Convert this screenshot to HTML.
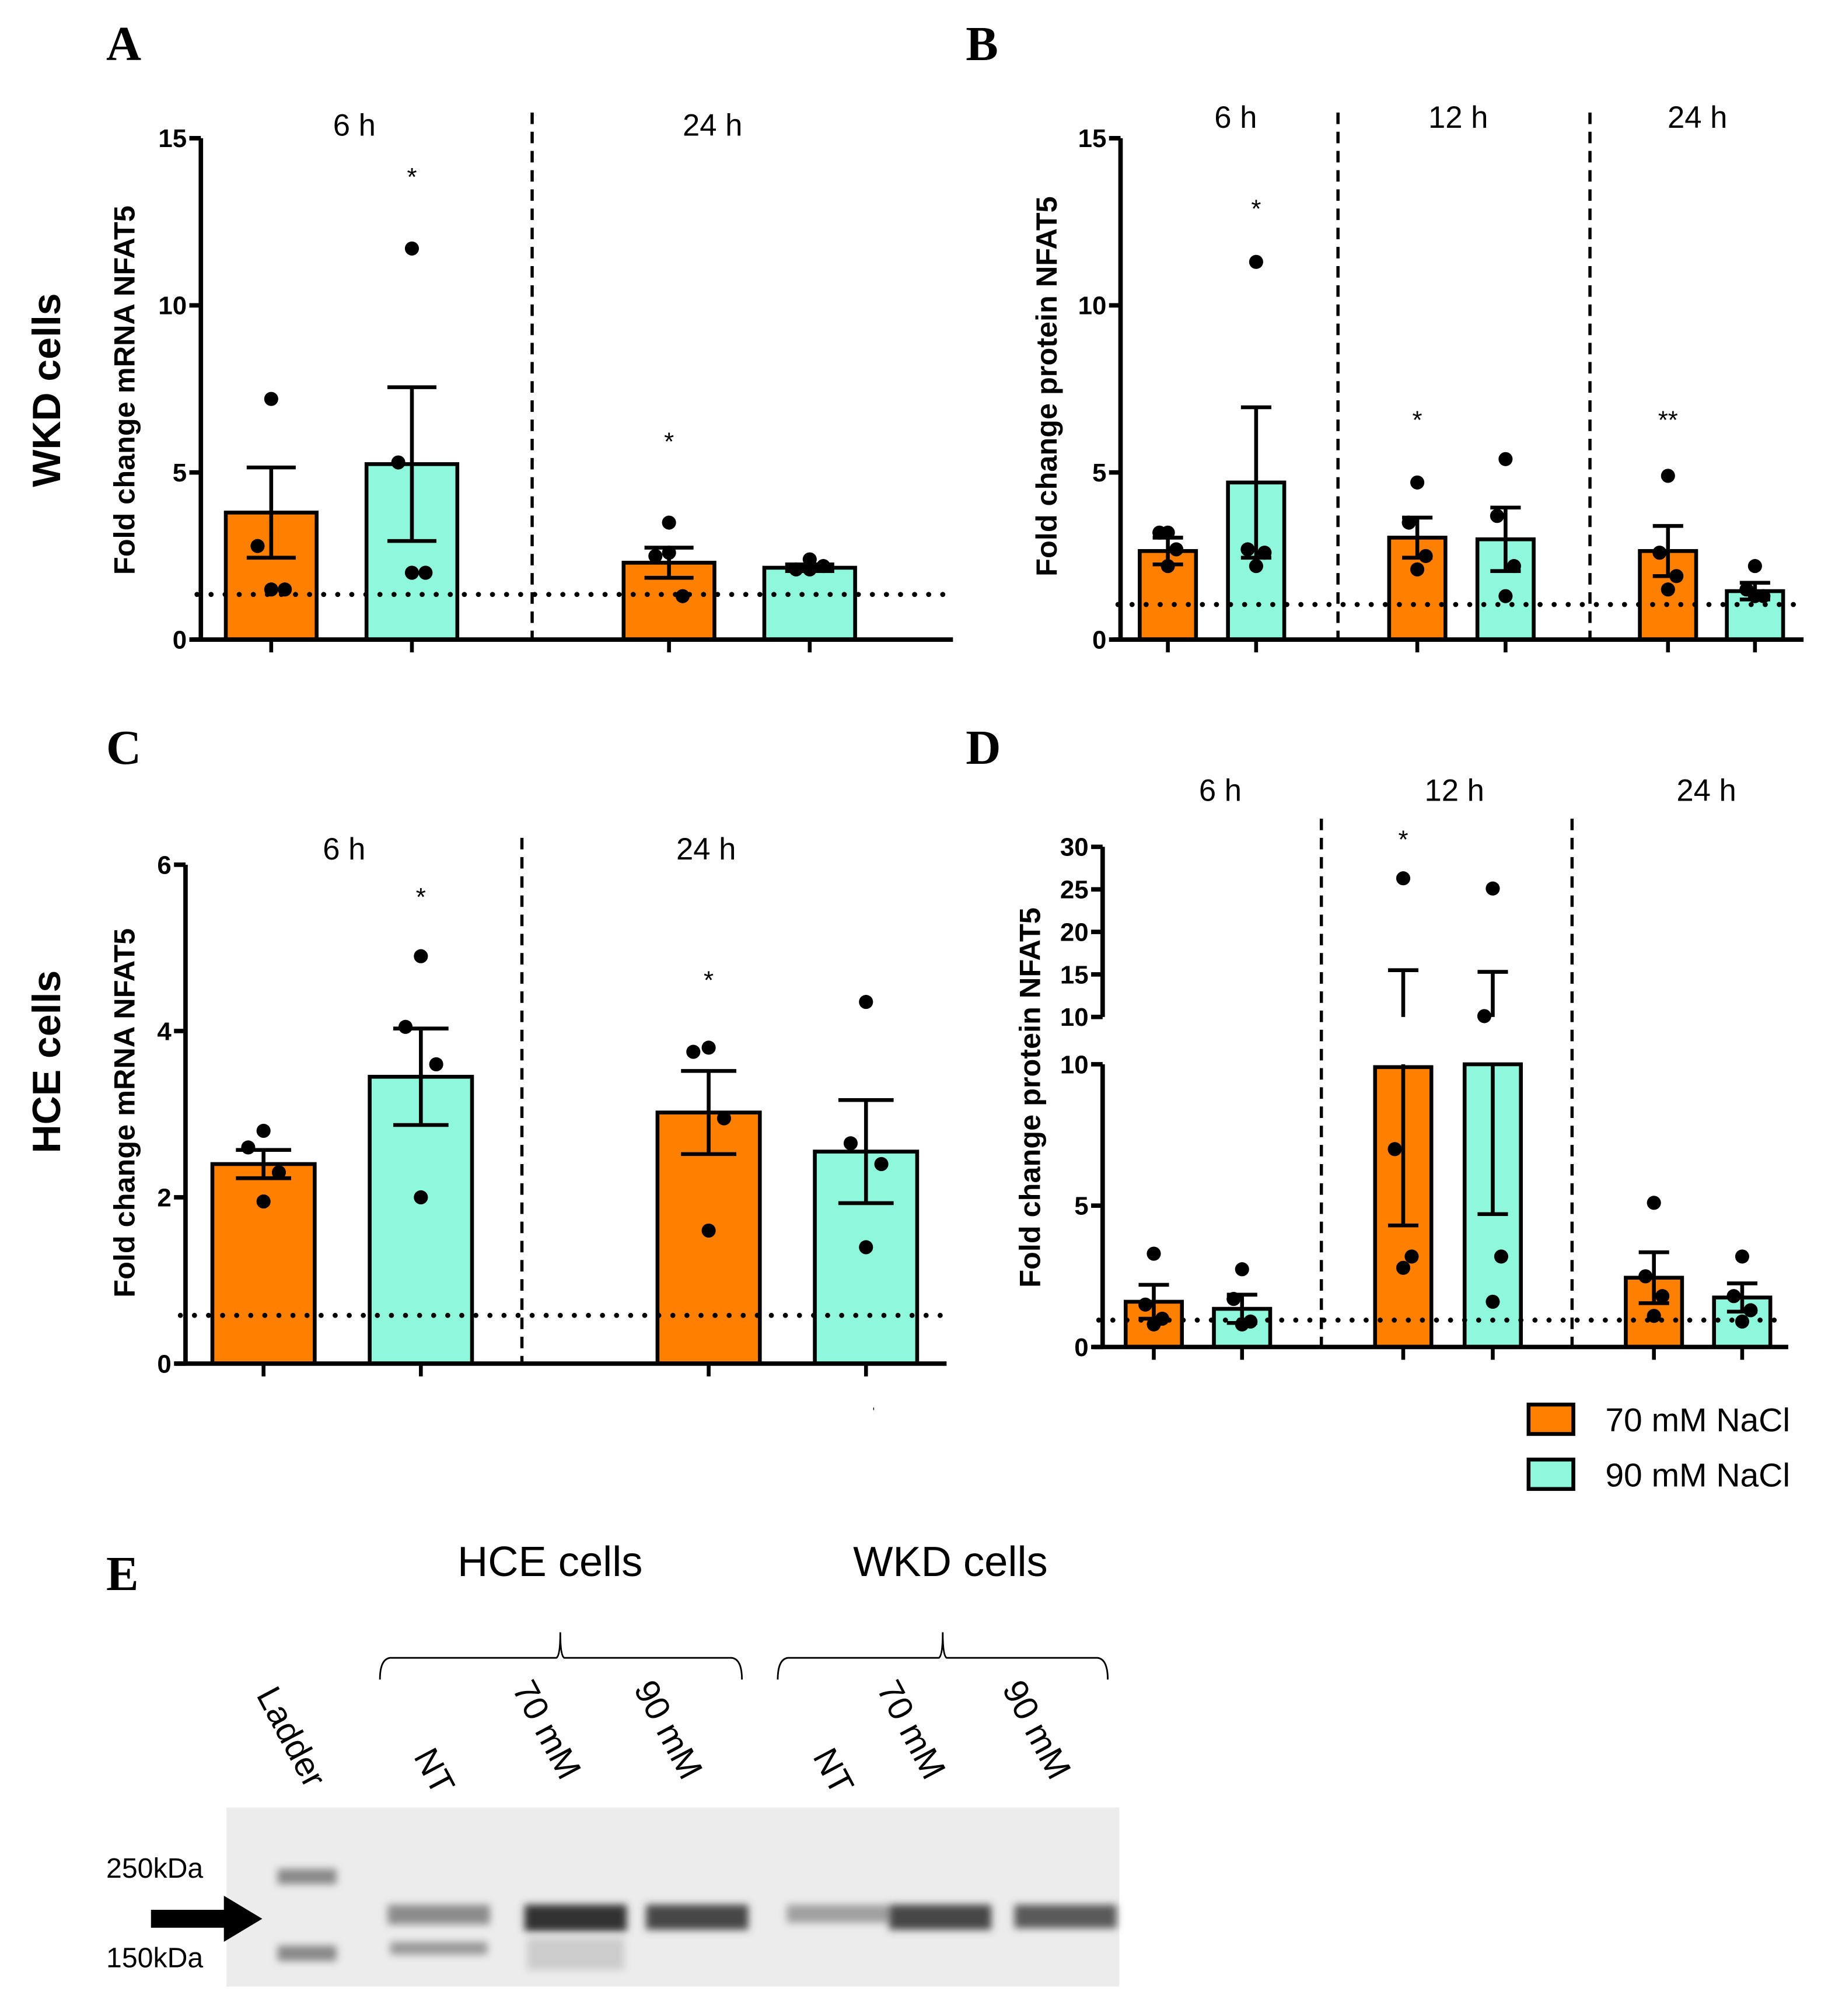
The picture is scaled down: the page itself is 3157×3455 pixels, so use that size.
<!DOCTYPE html>
<html><head><meta charset="utf-8"><style>
html,body{margin:0;padding:0;background:#fff}
svg{display:block}
text{font-family:"Liberation Sans",sans-serif}
</style></head><body>
<svg id="fig" width="3157" height="3455" viewBox="0 0 1440 1576" xmlns="http://www.w3.org/2000/svg">
<defs>
<filter id="blur"><feGaussianBlur stdDeviation="3"/></filter>
</defs>
<g id="root"></g>
</svg>
<script>
// ---- data ----
const groupLabelsA = ["6 h","24 h"];
const meansA = [3.8,5.25,2.3,2.15];
const semA = [1.35,2.3,0.45,0.1];
const pointsA = [[7.2,2.8,1.5,1.5],[11.7,5.3,2.0,2.0],[3.5,2.5,1.3,2.6],[2.1,2.1,2.2,2.4]];
const starsA = ["","*","*",""];
const baselineA = 1.35;
const ticksA = [0,5,10,15];

const groupLabelsB = ["6 h","12 h","24 h"];
const meansB = [2.65,4.7,3.05,3.0,2.65,1.45];
const semB = [0.4,2.25,0.6,0.95,0.75,0.25];
const pointsB = [[3.2,3.2,2.7,2.2],[11.3,2.7,2.6,2.2],[4.7,3.5,2.5,2.1],[5.4,3.7,2.2,1.3],[4.9,2.6,1.9,1.5],[2.2,1.5,1.3,1.3]];
const starsB = ["","*","*","","**",""];
const baselineB = 1.05;
const ticksB = [0,5,10,15];

const groupLabelsC = ["6 h","24 h"];
const meansC = [2.4,3.45,3.02,2.55];
const semC = [0.17,0.58,0.5,0.62];
const pointsC = [[2.8,2.6,2.3,1.95],[4.9,4.05,3.6,2.0],[3.8,3.75,2.95,1.6],[4.35,2.65,2.4,1.4]];
const starsC = ["","*","*",""];
const baselineC = 0.58;
const ticksC = [0,2,4,6];

const groupLabelsD = ["6 h","12 h","24 h"];
const meansD = [1.6,1.35,9.9,10.0,2.45,1.75];
const semD = [0.6,0.5,5.6,5.3,0.9,0.5];
const pointsD = [[3.3,1.5,1.0,0.8],[2.75,1.7,0.9,0.8],[26.3,7.0,3.2,2.8],[25.1,10.1,3.2,1.6],[5.1,2.5,1.8,1.1],[3.2,1.8,1.3,0.9]];
const starsD = ["","","*","","",""];
const baselineD = 0.95;
const ticksDLow = [0,5,10];
const ticksDHigh = [10,15,20,25,30];

const lanes = ["NT","70 mM","90 mM","NT","70 mM","90 mM"];
const bandIntensity = [0.45,0.9,0.8,0.35,0.8,0.7];

// ---- helpers ----
const NS="http://www.w3.org/2000/svg";
const root=document.getElementById('root');
function el(tag,attrs,parent,txt){const e=document.createElementNS(NS,tag);for(const k in attrs)e.setAttribute(k,attrs[k]);if(txt!==undefined)e.textContent=txt;(parent||root).appendChild(e);return e;}
const ORANGE="#ff8000", CYAN="#8ef7dc";

function panel(cfg){
  const g=el('g',{});
  
  
  const y=cfg.y;
  cfg.means.forEach((m,i)=>{
    const cx=cfg.cx[i], w=cfg.bw;
    const top=y(Math.min(m,cfg.clip||1e9));
    const r=el('rect',{x:cx-w/2,y:top,width:w,height:y(0)-top,fill:i%2?CYAN:ORANGE,stroke:'#000','stroke-width':3},g);
    
    
    const lo=m-cfg.sem[i], hi=m+cfg.sem[i];
    const eb=el('g',{stroke:'#000','stroke-width':3},g);
    
    
    if(cfg.clip && hi>cfg.clip){
      el('line',{x1:cx,x2:cx,y1:y(lo),y2:y(cfg.clip)},eb);
      el('line',{x1:cx,x2:cx,y1:cfg.breakTop,y2:y(hi)},eb);
    } else {
      el('line',{x1:cx,x2:cx,y1:y(lo),y2:y(hi)},eb);
    }
    el('line',{x1:cx-w*0.27,x2:cx+w*0.27,y1:y(hi),y2:y(hi)},eb);
    el('line',{x1:cx-w*0.27,x2:cx+w*0.27,y1:y(lo),y2:y(lo)},eb);
    cfg.points[i].forEach((p,j)=>{
      const off=[0,-9,9,0][j]*(cfg.bw/60);
      const c=el('circle',{cx:cx+(j==0?0:off),cy:y(p),r:5.5,fill:'#000'},g);
      
      
    });
    if(cfg.stars[i]){
      const t=el('text',{x:cx,y:cfg.starY[i],'text-anchor':'middle','font-size':20},g,cfg.stars[i]);
      
      
    }
    el('line',{x1:cx,x2:cx,y1:y(0),y2:y(0)+10,stroke:'#000','stroke-width':3},g);
  });
  const bl=el('line',{x1:cfg.xa0+4,x2:cfg.xa1,y1:y(cfg.base),y2:y(cfg.base),stroke:'#000','stroke-width':4,'stroke-dasharray':'0 11','stroke-linecap':'round'},g);
  
  
  cfg.seps.forEach(sx=>{const d=el('line',{x1:sx,x2:sx,y1:cfg.sepTop,y2:y(0),stroke:'#000','stroke-width':2.5,'stroke-dasharray':'9 6'},g);
    });
  cfg.groups.forEach((lab,i)=>{const t=el('text',{x:cfg.gx[i],y:cfg.gy,'text-anchor':'middle','font-size':24},g,lab);
    });
  const xa=el('line',{x1:cfg.xa0,x2:cfg.xa1,y1:y(0),y2:y(0),stroke:'#000','stroke-width':3.5},g);
  
  (cfg.axes).forEach(ax=>{
    const a=el('line',{x1:cfg.ax,x2:cfg.ax,y1:ax.y(ax.ticks[0]),y2:ax.y(ax.ticks[ax.ticks.length-1]),stroke:'#000','stroke-width':3.5},g);
    
    ax.ticks.forEach(tv=>{
      el('line',{x1:cfg.ax-9,x2:cfg.ax,y1:ax.y(tv),y2:ax.y(tv),stroke:'#000','stroke-width':3.5},g);
      const t=el('text',{x:cfg.ax-11,y:ax.y(tv)+7,'text-anchor':'end','font-size':20,'font-weight':'bold'},g,tv);
      
    });
  });
  const yt=el('text',{transform:`translate(${cfg.ytx},${cfg.yty}) rotate(-90)`,'text-anchor':'middle','font-size':23,'font-weight':'bold'},g,cfg.ytitle);
  
}

const yA=v=>500-v*26.13;
panel({name:'panel-a-chart',y:yA,means:meansA,sem:semA,points:pointsA,stars:starsA,starY:[0,145,352,0],
  cx:[212,322,523,633],bw:71,base:baselineA,xa0:150,xa1:745,seps:[416],sepTop:88,groups:groupLabelsA,gx:[277,557],gy:106,
  ax:157,axes:[{y:yA,ticks:ticksA}],ytx:105,yty:305,ytitle:'Fold change mRNA NFAT5'});
const yB=v=>500-v*26.13;
panel({name:'panel-b-chart',y:yB,means:meansB,sem:semB,points:pointsB,stars:starsB,starY:[0,170,335,0,335,0],
  cx:[913,982,1108,1177,1304,1372],bw:44,base:baselineB,xa0:870,xa1:1410,seps:[1046,1243],sepTop:88,groups:groupLabelsB,gx:[966,1140,1327],gy:100,
  ax:876,axes:[{y:yB,ticks:ticksB}],ytx:826,yty:302,ytitle:'Fold change protein NFAT5'});
const yC=v=>1066-v*65;
panel({name:'panel-c-chart',y:yC,means:meansC,sem:semC,points:pointsC,stars:starsC,starY:[0,708,773,0],
  cx:[206,329,554,677],bw:80,base:baselineC,xa0:137,xa1:740,seps:[408],sepTop:655,groups:groupLabelsC,gx:[269,552],gy:672,
  ax:145,axes:[{y:yC,ticks:ticksC}],ytx:105,yty:870,ytitle:'Fold change mRNA NFAT5'});
const yD=v=>v<=10?1053-v*22.1:795-(v-10)*6.65;
const yDlow=v=>1053-v*22.1;
const yDhigh=v=>795-(v-10)*6.65;
panel({name:'panel-d-chart',y:yD,means:meansD,sem:semD,points:pointsD,stars:starsD,starY:[0,0,663,0,0,0],clip:10,breakTop:795,
  cx:[902,971,1097,1167,1293,1362],bw:44,base:baselineD,xa0:855,xa1:1398,seps:[1033,1229],sepTop:640,groups:groupLabelsD,gx:[954,1137,1334],gy:626,
  ax:862,axes:[{y:yDlow,ticks:ticksDLow},{y:yDhigh,ticks:ticksDHigh}],ytx:813,yty:858,ytitle:'Fold change protein NFAT5'});
el('text',{x:681,y:1100,'font-size':12},root,'ˌ');

[['A',83,47],['B',755,47],['C',83,597],['D',755,597],['E',83,1243]].forEach(([l,x,y])=>{
  const t=el('text',{x:x,y:y,'font-size':38,'font-weight':'bold',style:'font-family:"Liberation Serif",serif'},root,l);
  
});
[['WKD cells',305],['HCE cells',830]].forEach(([l,y])=>{
  const t=el('text',{transform:`translate(47,${y}) rotate(-90)`,'text-anchor':'middle','font-size':31,'font-weight':'bold'},root,l);
  
});

const lg=el('g',{});

[[ORANGE,'70 mM NaCl',1098],[CYAN,'90 mM NaCl',1141]].forEach(([c,l,y])=>{
  const e=el('g',{},lg);
  
  el('rect',{x:1195,y:y,width:35,height:23,fill:c,stroke:'#000','stroke-width':3},e);
  el('text',{x:1255,y:y+21,'font-size':26},e,l);
});

const gE=el('g',{});

[['HCE cells',430],['WKD cells',743]].forEach(([l,x])=>{
  const t=el('text',{x:x,y:1232,'text-anchor':'middle','font-size':33},gE,l);
  
});
[[297,580,438],[608,866,737]].forEach(([a,b,c])=>{
  const p=el('path',{d:`M${a},1313 Q${a},1297 ${a+8},1296 L${c-3},1296 Q${c},1294 ${c},1276 Q${c},1294 ${c+3},1296 L${b-8},1296 Q${b},1297 ${b},1313`,fill:'none',stroke:'#000','stroke-width':1.3},gE);
  
});
const laneX=[343,450,545,655,735,833];
const lab=el('text',{transform:'translate(200,1325) rotate(62)','font-size':27},gE,'Ladder');

lanes.forEach((l,i)=>{
  const x=laneX[i]-(l==='NT'?20:50), y=l==='NT'?1373:1320;
  const t=el('text',{transform:`translate(${x},${y}) rotate(62)`,'font-size':27},gE,l);
  
});
const blot=el('g',{},gE);

el('rect',{x:177,y:1413,width:698,height:140,fill:'#ececec'},blot);
const bands=el('g',{filter:'url(#blur)'},blot);
el('rect',{x:217,y:1461,width:46,height:12,fill:'#888'},bands);
el('rect',{x:217,y:1521,width:46,height:12,fill:'#888'},bands);
lanes.forEach((l,i)=>{
  const v=Math.round(230-bandIntensity[i]*200);
  el('rect',{x:laneX[i]-40,y:1489,width:80,height:10+bandIntensity[i]*12,fill:`rgb(${v},${v},${v})`},bands);
});
el('rect',{x:laneX[0]-38,y:1518,width:76,height:10,fill:'#999'},bands);
el('rect',{x:laneX[1]-38,y:1515,width:76,height:25,fill:'#ccc'},bands);
[['250kDa',1468],['150kDa',1538]].forEach(([l,y])=>{
  const t=el('text',{x:83,y:y,'font-size':22},gE,l);
  
});
const ar=el('path',{d:'M118,1493 L175,1493 L175,1482 L205,1500 L175,1518 L175,1507 L118,1507 Z',fill:'#000'},gE);

</script>
</body></html>
